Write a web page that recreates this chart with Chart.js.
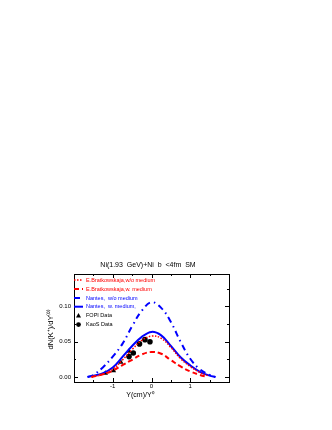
<!DOCTYPE html>
<html>
<head>
<meta charset="utf-8">
<script src="https://cdn.jsdelivr.net/npm/chart.js@4"></script>
<style>
html, body { margin: 0; padding: 0; background: #fff; }
#wrap { width: 332px; height: 430px; }
</style>
</head>
<body>
<div id="wrap"><canvas id="kaonChart" width="332" height="430"></canvas></div>
<script>
// -- Data --
const titleText = 'Ni(1.93  GeV)+Ni  b  <4fm  SM';
const xTitle = 'Y(cm)/Y⁰';
const yTitle = 'dN(K⁺)/dY⁽⁰⁾';

const nantesY = [-1.65, -1.5, -1.25, -1, -0.75, -0.5, -0.25, 0, 0.25, 0.5, 0.75, 1, 1.25, 1.5, 1.65];
const nantesNoMedium = [0.000, 0.003, 0.014, 0.029, 0.047, 0.072, 0.094, 0.106, 0.098, 0.078, 0.050, 0.026, 0.011, 0.003, 0.000];
const nantesMedium   = [0.000, 0.002, 0.0055, 0.0135, 0.0285, 0.044, 0.057, 0.064, 0.059, 0.044, 0.028, 0.0165, 0.0075, 0.002, 0.000];

const bratY = [-1.55, -1.25, -1, -0.75, -0.5, -0.25, 0, 0.25, 0.5, 0.75, 1, 1.25, 1.45];
const bratNoMedium = [0.000, 0.004, 0.011, 0.024, 0.039, 0.052, 0.058, 0.055, 0.042, 0.026, 0.015, 0.0065, 0.002];
const bratMedium   = [0.000, 0.004, 0.009, 0.017, 0.0245, 0.032, 0.0355, 0.033, 0.024, 0.015, 0.008, 0.003, 0.000];

const fopiY = [-1.19, -0.98, -0.79, -0.58];
const fopiN = [0.0055, 0.009, 0.021, 0.0365];
const kaosY = [-0.58, -0.47, -0.31, -0.17, -0.04];
const kaosN = [0.029, 0.034, 0.047, 0.053, 0.050];

const xTicks = [-1, 0, 1];
const xMinor = [-1.5, -0.5, 0.5, 1.5];
const yTicks = [0, 0.05, 0.10];
const yMinor = [0.025, 0.075, 0.125];

const RED = '#ff0000';
const BLUE = '#0000ff';
const FONT = '"Liberation Sans", Arial, sans-serif';

function pts(xs, ys) { return xs.map((x, i) => ({x: x, y: ys[i]})); }

// -- frame, inward ticks, legend and titles --
const decor = {
    id: 'decor',
    afterDraw(chart) {
        const ctx = chart.ctx;
        const a = chart.chartArea;
        const sx = chart.scales.x, sy = chart.scales.y;
        ctx.save();
        ctx.strokeStyle = '#000';
        ctx.lineWidth = 1;
        ctx.strokeRect(a.left + 0.5, a.top + 0.5, a.right - a.left, a.bottom - a.top);

        // ticks pointing inside on all sides
        ctx.beginPath();
        const tx = (v, len) => {
            const p = Math.round(sx.getPixelForValue(v)) + 0.5;
            ctx.moveTo(p, a.bottom); ctx.lineTo(p, a.bottom - len);
            ctx.moveTo(p, a.top); ctx.lineTo(p, a.top + len);
        };
        const ty = (v, len) => {
            const p = Math.round(sy.getPixelForValue(v)) + 0.5;
            ctx.moveTo(a.left, p); ctx.lineTo(a.left + len, p);
            ctx.moveTo(a.right, p); ctx.lineTo(a.right - len, p);
        };
        xTicks.forEach(v => tx(v, 4));
        xMinor.forEach(v => tx(v, 2));
        yTicks.forEach(v => ty(v, 4));
        yMinor.forEach(v => ty(v, 2));
        ctx.stroke();

        // legend inside the plot
        const rowY = [280, 289, 298, 306.7, 315.6, 324.6];
        ctx.font = '5.5px ' + FONT;
        ctx.textBaseline = 'middle';
        chart.data.datasets.forEach((ds, i) => {
            const y = rowY[i];
            if (ds.showLine) {
                ctx.beginPath();
                ctx.strokeStyle = ds.borderColor;
                ctx.lineWidth = ds.borderWidth;
                ctx.setLineDash(ds.borderDash || []);
                ctx.moveTo(74, y); ctx.lineTo(83, y);
                ctx.stroke();
                ctx.setLineDash([]);
            } else {
                ctx.fillStyle = '#000';
                ctx.beginPath();
                if (ds.pointStyle === 'triangle') {
                    ctx.moveTo(78.5, y - 2.5); ctx.lineTo(81, y + 2); ctx.lineTo(76, y + 2);
                    ctx.closePath();
                } else {
                    ctx.arc(78.5, y, 2.4, 0, Math.PI * 2);
                }
                ctx.fill();
            }
            ctx.fillStyle = ds.legendColor;
            ctx.fillText(ds.label, 86, y);
        });

        // titles
        ctx.fillStyle = '#000';
        ctx.textAlign = 'center';
        ctx.font = '7px ' + FONT;
        ctx.fillText(titleText, 148, 265);
        ctx.fillText(xTitle, 140, 395);
        ctx.translate(51, 329);
        ctx.rotate(-Math.PI / 2);
        ctx.font = '7.5px ' + FONT;
        ctx.fillText(yTitle, 0, 0);
        ctx.restore();
    }
};

const ctx = document.getElementById('kaonChart').getContext('2d');
const kaonChart = new Chart(ctx, {
    type: 'scatter',
    data: {
        datasets: [{
            label: 'E.Bratkowskaja,w/o medium',
            data: pts(bratY, bratNoMedium),
            showLine: true, borderColor: RED, borderWidth: 1.5, borderDash: [1.5, 1.5],
            pointRadius: 0, tension: 0.4, legendColor: RED
        }, {
            label: 'E.Bratkowskaja,w. medium',
            data: pts(bratY, bratMedium),
            showLine: true, borderColor: RED, borderWidth: 2, borderDash: [5, 3],
            pointRadius: 0, tension: 0.4, legendColor: RED
        }, {
            label: 'Nantes,  w/o medium',
            data: pts(nantesY, nantesNoMedium),
            showLine: true, borderColor: BLUE, borderWidth: 2, borderDash: [6, 4, 1.5, 4],
            pointRadius: 0, tension: 0.4, legendColor: BLUE
        }, {
            label: 'Nantes,  w. medium,',
            data: pts(nantesY, nantesMedium),
            showLine: true, borderColor: BLUE, borderWidth: 2,
            pointRadius: 0, tension: 0.4, legendColor: BLUE
        }, {
            label: 'FOPI Data',
            data: pts(fopiY, fopiN),
            showLine: false, pointStyle: 'triangle', pointRadius: 3,
            backgroundColor: '#000', borderColor: '#000', borderWidth: 0, legendColor: '#000'
        }, {
            label: 'KaoS Data',
            data: pts(kaosY, kaosN),
            showLine: false, pointStyle: 'circle', pointRadius: 2.8,
            backgroundColor: '#000', borderColor: '#000', borderWidth: 0, legendColor: '#000'
        }]
    },
    options: {
        responsive: false,
        animation: false,
        layout: { padding: { left: 0, right: 103, top: 274, bottom: 0 } },
        scales: {
            x: {
                type: 'linear', min: -2, max: 2,
                grid: { display: false, drawTicks: false },
                border: { display: false },
                afterBuildTicks: s => { s.ticks = xTicks.map(v => ({value: v})); },
                afterFit: s => { s.height = 48; },
                ticks: { color: '#000', padding: 1, font: { size: 6, family: FONT },
                         callback: v => String(v) }
            },
            y: {
                min: -0.007, max: 0.146,
                grid: { display: false, drawTicks: false },
                border: { display: false },
                afterBuildTicks: s => { s.ticks = yTicks.map(v => ({value: v})); },
                afterFit: s => { s.width = 74; },
                ticks: { color: '#000', padding: 3, font: { size: 6, family: FONT },
                         callback: v => v.toFixed(2) }
            }
        },
        plugins: {
            legend: { display: false },
            tooltip: { enabled: false }
        }
    },
    plugins: [decor]
});
</script>
</body>
</html>
